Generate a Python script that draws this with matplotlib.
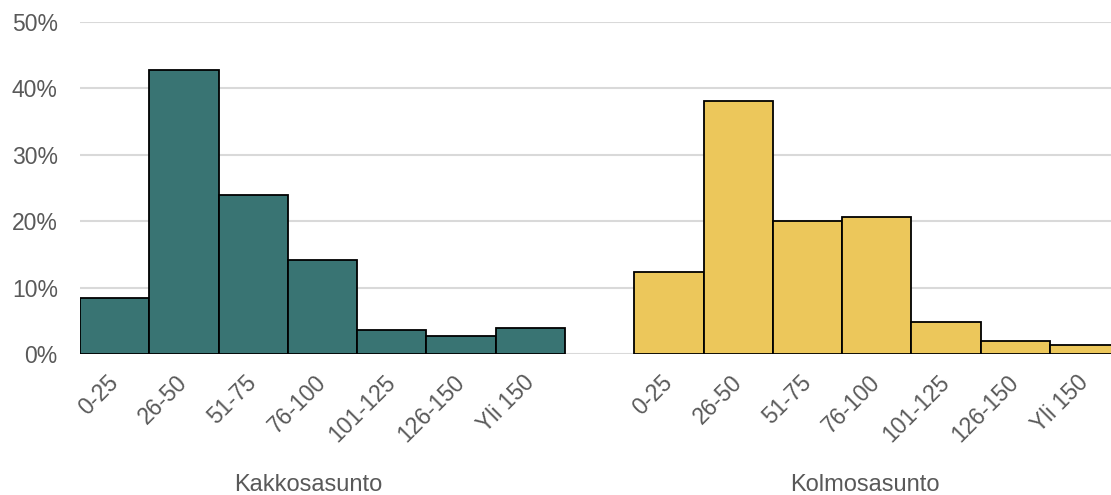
import numpy as np
import matplotlib.pyplot as plt
from matplotlib.ticker import PercentFormatter

plt.rcParams['font.family'] = ['Liberation Sans', 'DejaVu Sans']

size_classes = ["0-25", "26-50", "51-75", "76-100", "101-125", "126-150", "Yli 150"]
groups = ["Kakkosasunto", "Kolmosasunto"]
kakkos = [8.5, 42.7, 24.0, 14.2, 3.6, 2.7, 3.9]
kolmos = [12.4, 38.1, 20.1, 20.7, 4.8, 2.0, 1.3]
colors = ["#397473", "#ECC75B"]

fig = plt.figure(figsize=(11.11, 4.95), dpi=100)
ax = fig.add_axes([80 / 1111, 1 - 354 / 495, 1 - 80 / 1111, (354 - 22) / 495])

n = len(size_classes)
x_left = np.arange(n)
x_right = np.arange(n) + n + 1
for xs, vals, c in [(x_left, kakkos, colors[0]), (x_right, kolmos, colors[1])]:
    ax.bar(xs, vals, width=1.0, align="edge", color=c, edgecolor="black",
           linewidth=1.3, zorder=3)

ax.set_ylim(0, 50)
ax.set_xlim(0, 14.88)
ax.set_yticks(np.arange(0, 51, 10))
ax.yaxis.set_major_formatter(PercentFormatter(decimals=0))
ax.grid(axis="y", color="#D9D9D9", linewidth=1.5, zorder=0)
for s in ax.spines.values():
    s.set_visible(False)

centers = np.concatenate([x_left, x_right]) + 0.5
ax.set_xticks(centers)
ax.set_xticklabels(size_classes * 2, rotation=45, ha="right", va="center",
                   rotation_mode="anchor")
ax.tick_params(axis="both", length=0, labelsize=16.5, colors="#595959")
ax.tick_params(axis="y", pad=16)
ax.tick_params(axis="x", pad=18)

for gx, name in zip([3.29, 11.33], groups):
    ax.text(gx, -0.395, name, transform=ax.get_xaxis_transform(),
            ha="center", va="center", fontsize=17, color="#595959")

fig.savefig("out.png", dpi=100)
